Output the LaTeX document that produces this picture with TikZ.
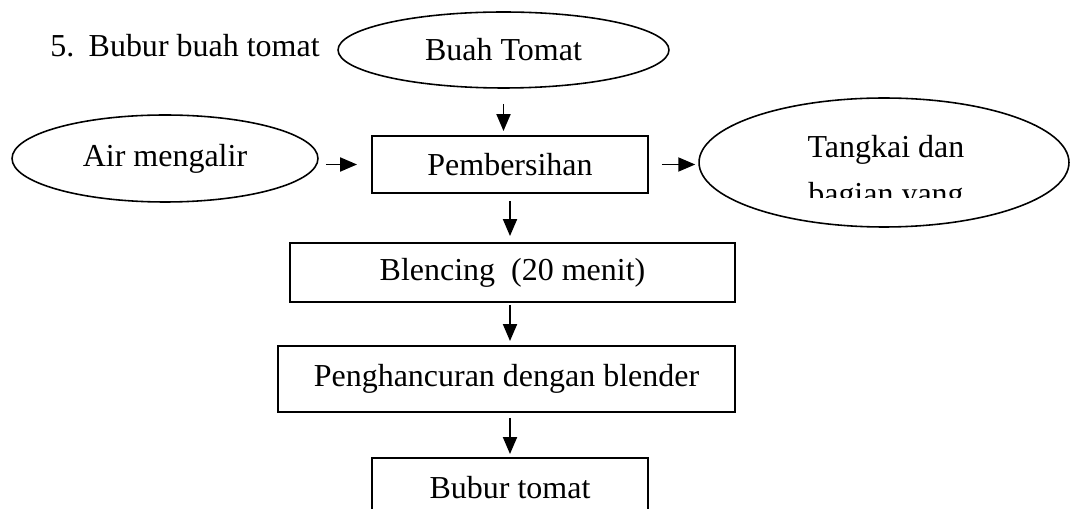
\documentclass[tikz,border=0pt]{standalone}
\usepackage{fontspec}
\setmainfont{Liberation Serif}
\usetikzlibrary{shapes.geometric,arrows.meta}
\begin{document}
\begin{tikzpicture}[x=0.02cm,y=-0.02cm,
  txt/.style={font=\fontsize{18.2}{21.8}\selectfont, inner sep=0pt},
  stepbox/.style={draw, line width=1.1pt, inner sep=0pt, txt},
  oval/.style={draw, ellipse, line width=0.9pt, inner sep=0pt, txt},
  arr/.style={line width=1.1pt, -{Triangle[length=0.34cm,width=0.28cm]}}]
\useasboundingbox (0,0) rectangle (1071,509);
% title
\node[txt, anchor=base west] (title) at (50,57) {5.\hspace{0.45em}Bubur buah tomat};
% ovals
\node[oval, minimum width=6.62cm, minimum height=1.52cm] (bt) at (503.5,50) {Buah Tomat};
\node[oval, minimum width=6.12cm, minimum height=1.74cm] (am) at (165,158.5) {Air mengalir};
\node[oval, minimum width=7.4cm, minimum height=2.58cm] (tk) at (884,162.5) {};
\node[txt, anchor=base] (tk1) at (886,158) {Tangkai dan};
\begin{scope}
  \clip (700,100) rectangle (1068,198);
  \node[txt, anchor=base] (tk2) at (886,205) {bagian yang};
\end{scope}
% boxes
\node[stepbox, minimum width=5.52cm, minimum height=1.14cm] (pb) at (510,164.5) {Pembersihan};
\node[stepbox, minimum width=8.9cm, minimum height=1.18cm] (bl) at (512.5,272.5) {Blencing\ \ (20 menit)};
\node[stepbox, minimum width=9.14cm, minimum height=1.32cm] (ph) at (506.5,379) {Penghancuran dengan blender};
\node[stepbox, minimum width=5.52cm, minimum height=1.18cm] (bu) at (510,487.5) {Bubur tomat};
% arrows
\draw[arr, shorten <=0.3cm, shorten >=0.08cm] (bt.south) -- (bt.south |- pb.north);
\draw[arr, shorten <=0.14cm, shorten >=0.28cm] (pb.west -| am.east) -- (pb.west);
\draw[arr, shorten <=0.26cm, shorten >=0.06cm] (pb.east) -- (pb.east -| tk.west);
\draw[arr, shorten <=0.14cm, shorten >=0.12cm] (pb.south) -- (pb.south |- bl.north);
\draw[arr, shorten <=0.04cm, shorten >=0.08cm] (pb.south |- bl.south) -- (pb.south |- ph.north);
\draw[arr, shorten <=0.1cm, shorten >=0.06cm] (pb.south |- ph.south) -- (pb.south |- bu.north);
\end{tikzpicture}
\end{document}
